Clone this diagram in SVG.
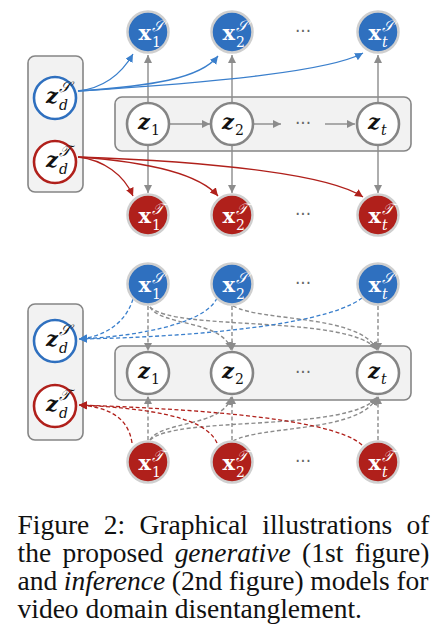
<svg xmlns="http://www.w3.org/2000/svg" width="441" height="636" viewBox="0 0 441 636">
<style>
.box{fill:#f2f2f2;stroke:#858585;stroke-width:1.6}
.xs{fill:#2f70bf;stroke:#cfcfcf;stroke-width:2.5}
.xt{fill:#b0201b;stroke:#cfcfcf;stroke-width:2.5}
.zn{fill:#ffffff;stroke:#858585;stroke-width:2.6}
.zds{fill:#ffffff;stroke:#2f70bf;stroke-width:2.6}
.zdt{fill:#ffffff;stroke:#b0201b;stroke-width:2.6}
.lw{fill:#ffffff}
.lb{fill:#111111}
.main{font-family:"DejaVu Serif",serif;font-weight:bold;font-size:21px}
.zi{font-family:"DejaVu Serif",serif;font-weight:bold;font-style:italic;font-size:21px}
.sub{font-family:"DejaVu Serif",serif;font-size:14px}
.subi{font-family:"DejaVu Serif",serif;font-style:italic;font-size:14px}
.sup{font-family:"DejaVu Serif","DejaVu Sans",serif;font-style:italic;font-size:15px}
.dots{font-family:"DejaVu Sans",sans-serif;font-size:17px;fill:#666666;text-anchor:middle}
.g{fill:none;stroke:#8c8c8c;stroke-width:1.4}
.b{fill:none;stroke:#3a7fcc;stroke-width:1.3}
.r{fill:none;stroke:#b0201b;stroke-width:1.3}
.d{stroke-dasharray:4 2.5}
.cap{font-family:"Liberation Serif","Times New Roman",serif;font-size:27.5px;fill:#111111}
</style>
<defs>
<marker id="ag" markerUnits="userSpaceOnUse" markerWidth="10" markerHeight="10" refX="8" refY="4" orient="auto"><path d="M0,0 L8,4 L0,8 z" fill="#8c8c8c"/></marker>
<marker id="ab" markerUnits="userSpaceOnUse" markerWidth="10" markerHeight="10" refX="8" refY="4" orient="auto"><path d="M0,0 L8,4 L0,8 z" fill="#3a7fcc"/></marker>
<marker id="ar" markerUnits="userSpaceOnUse" markerWidth="10" markerHeight="10" refX="8" refY="4" orient="auto"><path d="M0,0 L8,4 L0,8 z" fill="#b0201b"/></marker>
</defs>

<!-- plates -->
<g id="plate-domain-top"><rect class="box" x="28" y="56" width="55" height="136" rx="7"/></g>
<g id="plate-seq-top"><rect class="box" x="115" y="97" width="296" height="54" rx="7"/></g>
<g id="plate-domain-bottom"><rect class="box" x="28" y="304" width="55" height="136" rx="7"/></g>
<g id="plate-seq-bottom"><rect class="box" x="115" y="346" width="296" height="54" rx="7"/></g>

<g id="connectors">
<!-- top: generative -->
<path class="g" d="M148,102 V55" marker-end="url(#ag)"/>
<path class="g" d="M232,102 V55" marker-end="url(#ag)"/>
<path class="g" d="M378,102 V55" marker-end="url(#ag)"/>
<path class="g" d="M148,146 V193" marker-end="url(#ag)"/>
<path class="g" d="M232,146 V193" marker-end="url(#ag)"/>
<path class="g" d="M378,146 V193" marker-end="url(#ag)"/>
<path class="g" d="M170,124 H210" marker-end="url(#ag)"/>
<path class="g" d="M254,124 H281" marker-end="url(#ag)"/>
<path class="g" d="M325,124 H355" marker-end="url(#ag)"/>
<path class="b" d="M78,91 C104,88 122,73 133,54" marker-end="url(#ab)"/>
<path class="b" d="M78,91 C150,86 200,79 218,56" marker-end="url(#ab)"/>
<path class="b" d="M78,91 C220,82 330,71 363,53" marker-end="url(#ab)"/>
<path class="r" d="M78,157 C104,160 124,175 133,196" marker-end="url(#ar)"/>
<path class="r" d="M78,157 C150,162 200,175 218,196" marker-end="url(#ar)"/>
<path class="r" d="M78,157 C220,162 330,175 363,197" marker-end="url(#ar)"/>
<!-- bottom: inference -->
<path class="g d" d="M148,306 V351" marker-end="url(#ag)"/>
<path class="g d" d="M232,306 V351" marker-end="url(#ag)"/>
<path class="g d" d="M378,306 V351" marker-end="url(#ag)"/>
<path class="g d" d="M148,440 V396" marker-end="url(#ag)"/>
<path class="g d" d="M232,440 V396" marker-end="url(#ag)"/>
<path class="g d" d="M378,440 V396" marker-end="url(#ag)"/>
<path class="g d" d="M150,307 C160,326 224,320 231,350" marker-end="url(#ag)"/>
<path class="g d" d="M150,307 C176,332 350,314 377,350" marker-end="url(#ag)"/>
<path class="g d" d="M233,306 C262,322 360,314 377,350" marker-end="url(#ag)"/>
<path class="g d" d="M150,440 C160,421 224,427 231,397" marker-end="url(#ag)"/>
<path class="g d" d="M150,440 C176,415 350,433 377,397" marker-end="url(#ag)"/>
<path class="g d" d="M233,441 C262,425 360,433 377,397" marker-end="url(#ag)"/>
<path class="b d" d="M133,299 C125,325 102,337 79,339" marker-end="url(#ab)"/>
<path class="b d" d="M217,298 C205,325 130,337 79,339" marker-end="url(#ab)"/>
<path class="b d" d="M362,298 C320,330 150,338 79,339" marker-end="url(#ab)"/>
<path class="r d" d="M132,443 C128,415 105,407 79,405" marker-end="url(#ar)"/>
<path class="r d" d="M217,443 C205,415 140,408 79,405" marker-end="url(#ar)"/>
<path class="r d" d="M362,445 C330,415 160,408 79,405" marker-end="url(#ar)"/>
</g>

<!-- top nodes -->
<g id="xS1-top"><circle class="xs" cx="148" cy="32" r="20.5"/><text class="main lw" x="151" y="40" text-anchor="end">x</text><text class="sup lw" x="152" y="31">𝒮</text><text class="sub lw" x="152" y="47">1</text></g>
<g id="xS2-top"><circle class="xs" cx="232" cy="32" r="20.5"/><text class="main lw" x="235" y="40" text-anchor="end">x</text><text class="sup lw" x="236" y="31">𝒮</text><text class="sub lw" x="236" y="47">2</text></g>
<g id="dotsS-top"><text class="dots" x="303" y="37">···</text></g>
<g id="xSt-top"><circle class="xs" cx="378" cy="32" r="20.5"/><text class="main lw" x="381" y="40" text-anchor="end">x</text><text class="sup lw" x="382" y="31">𝒮</text><text class="subi lw" x="382" y="47">t</text></g>

<g id="zdS-top"><circle class="zds" cx="55" cy="98" r="21"/><text class="zi lb" x="58" y="103" text-anchor="end">z</text><text class="sup lb" x="59" y="92">𝒮</text><text class="subi lb" x="59" y="110">d</text></g>
<g id="zdT-top"><circle class="zdt" cx="55" cy="162" r="21"/><text class="zi lb" x="58" y="167" text-anchor="end">z</text><text class="sup lb" x="59" y="156">𝒯</text><text class="subi lb" x="59" y="174">d</text></g>

<g id="z1-top"><circle class="zn" cx="148" cy="124" r="21"/><text class="zi lb" x="150" y="129" text-anchor="end">z</text><text class="sub lb" x="151" y="135">1</text></g>
<g id="z2-top"><circle class="zn" cx="232" cy="124" r="21"/><text class="zi lb" x="234" y="129" text-anchor="end">z</text><text class="sub lb" x="235" y="135">2</text></g>
<g id="dotsZ-top"><text class="dots" x="303" y="129">···</text></g>
<g id="zt-top"><circle class="zn" cx="378" cy="124" r="21"/><text class="zi lb" x="380" y="129" text-anchor="end">z</text><text class="subi lb" x="381" y="135">t</text></g>

<g id="xT1-top"><circle class="xt" cx="148" cy="215" r="20.5"/><text class="main lw" x="151" y="223" text-anchor="end">x</text><text class="sup lw" x="152" y="214">𝒯</text><text class="sub lw" x="152" y="230">1</text></g>
<g id="xT2-top"><circle class="xt" cx="232" cy="215" r="20.5"/><text class="main lw" x="235" y="223" text-anchor="end">x</text><text class="sup lw" x="236" y="214">𝒯</text><text class="sub lw" x="236" y="230">2</text></g>
<g id="dotsT-top"><text class="dots" x="303" y="220">···</text></g>
<g id="xTt-top"><circle class="xt" cx="378" cy="215" r="20.5"/><text class="main lw" x="381" y="223" text-anchor="end">x</text><text class="sup lw" x="382" y="214">𝒯</text><text class="subi lw" x="382" y="230">t</text></g>

<!-- bottom nodes -->
<g id="xS1-bot"><circle class="xs" cx="148" cy="284" r="20.5"/><text class="main lw" x="151" y="292" text-anchor="end">x</text><text class="sup lw" x="152" y="283">𝒮</text><text class="sub lw" x="152" y="299">1</text></g>
<g id="xS2-bot"><circle class="xs" cx="232" cy="284" r="20.5"/><text class="main lw" x="235" y="292" text-anchor="end">x</text><text class="sup lw" x="236" y="283">𝒮</text><text class="sub lw" x="236" y="299">2</text></g>
<g id="dotsS-bot"><text class="dots" x="303" y="289">···</text></g>
<g id="xSt-bot"><circle class="xs" cx="378" cy="284" r="20.5"/><text class="main lw" x="381" y="292" text-anchor="end">x</text><text class="sup lw" x="382" y="283">𝒮</text><text class="subi lw" x="382" y="299">t</text></g>

<g id="zdS-bot"><circle class="zds" cx="55" cy="341" r="21"/><text class="zi lb" x="58" y="346" text-anchor="end">z</text><text class="sup lb" x="59" y="335">𝒮</text><text class="subi lb" x="59" y="353">d</text></g>
<g id="zdT-bot"><circle class="zdt" cx="55" cy="406" r="21"/><text class="zi lb" x="58" y="411" text-anchor="end">z</text><text class="sup lb" x="59" y="400">𝒯</text><text class="subi lb" x="59" y="418">d</text></g>

<g id="z1-bot"><circle class="zn" cx="148" cy="373" r="21"/><text class="zi lb" x="150" y="378" text-anchor="end">z</text><text class="sub lb" x="151" y="384">1</text></g>
<g id="z2-bot"><circle class="zn" cx="232" cy="373" r="21"/><text class="zi lb" x="234" y="378" text-anchor="end">z</text><text class="sub lb" x="235" y="384">2</text></g>
<g id="dotsZ-bot"><text class="dots" x="303" y="378">···</text></g>
<g id="zt-bot"><circle class="zn" cx="378" cy="373" r="21"/><text class="zi lb" x="380" y="378" text-anchor="end">z</text><text class="subi lb" x="381" y="384">t</text></g>

<g id="xT1-bot"><circle class="xt" cx="148" cy="462" r="20.5"/><text class="main lw" x="151" y="470" text-anchor="end">x</text><text class="sup lw" x="152" y="461">𝒯</text><text class="sub lw" x="152" y="477">1</text></g>
<g id="xT2-bot"><circle class="xt" cx="232" cy="462" r="20.5"/><text class="main lw" x="235" y="470" text-anchor="end">x</text><text class="sup lw" x="236" y="461">𝒯</text><text class="sub lw" x="236" y="477">2</text></g>
<g id="dotsT-bot"><text class="dots" x="303" y="467">···</text></g>
<g id="xTt-bot"><circle class="xt" cx="378" cy="462" r="20.5"/><text class="main lw" x="381" y="470" text-anchor="end">x</text><text class="sup lw" x="382" y="461">𝒯</text><text class="subi lw" x="382" y="477">t</text></g>

<g id="caption">
<text class="cap" x="17.5" y="534" word-spacing="7.5" textLength="412" lengthAdjust="spacing">Figure 2: Graphical illustrations of</text>
<text class="cap" x="17.5" y="562" word-spacing="4.5" textLength="412" lengthAdjust="spacing">the proposed <tspan font-style="italic">generative</tspan> (1st figure)</text>
<text class="cap" x="17.5" y="590" word-spacing="-0.2" textLength="411" lengthAdjust="spacing">and <tspan font-style="italic">inference</tspan> (2nd figure) models for</text>
<text class="cap" x="17.5" y="618">video domain disentanglement.</text>
</g>
</svg>
